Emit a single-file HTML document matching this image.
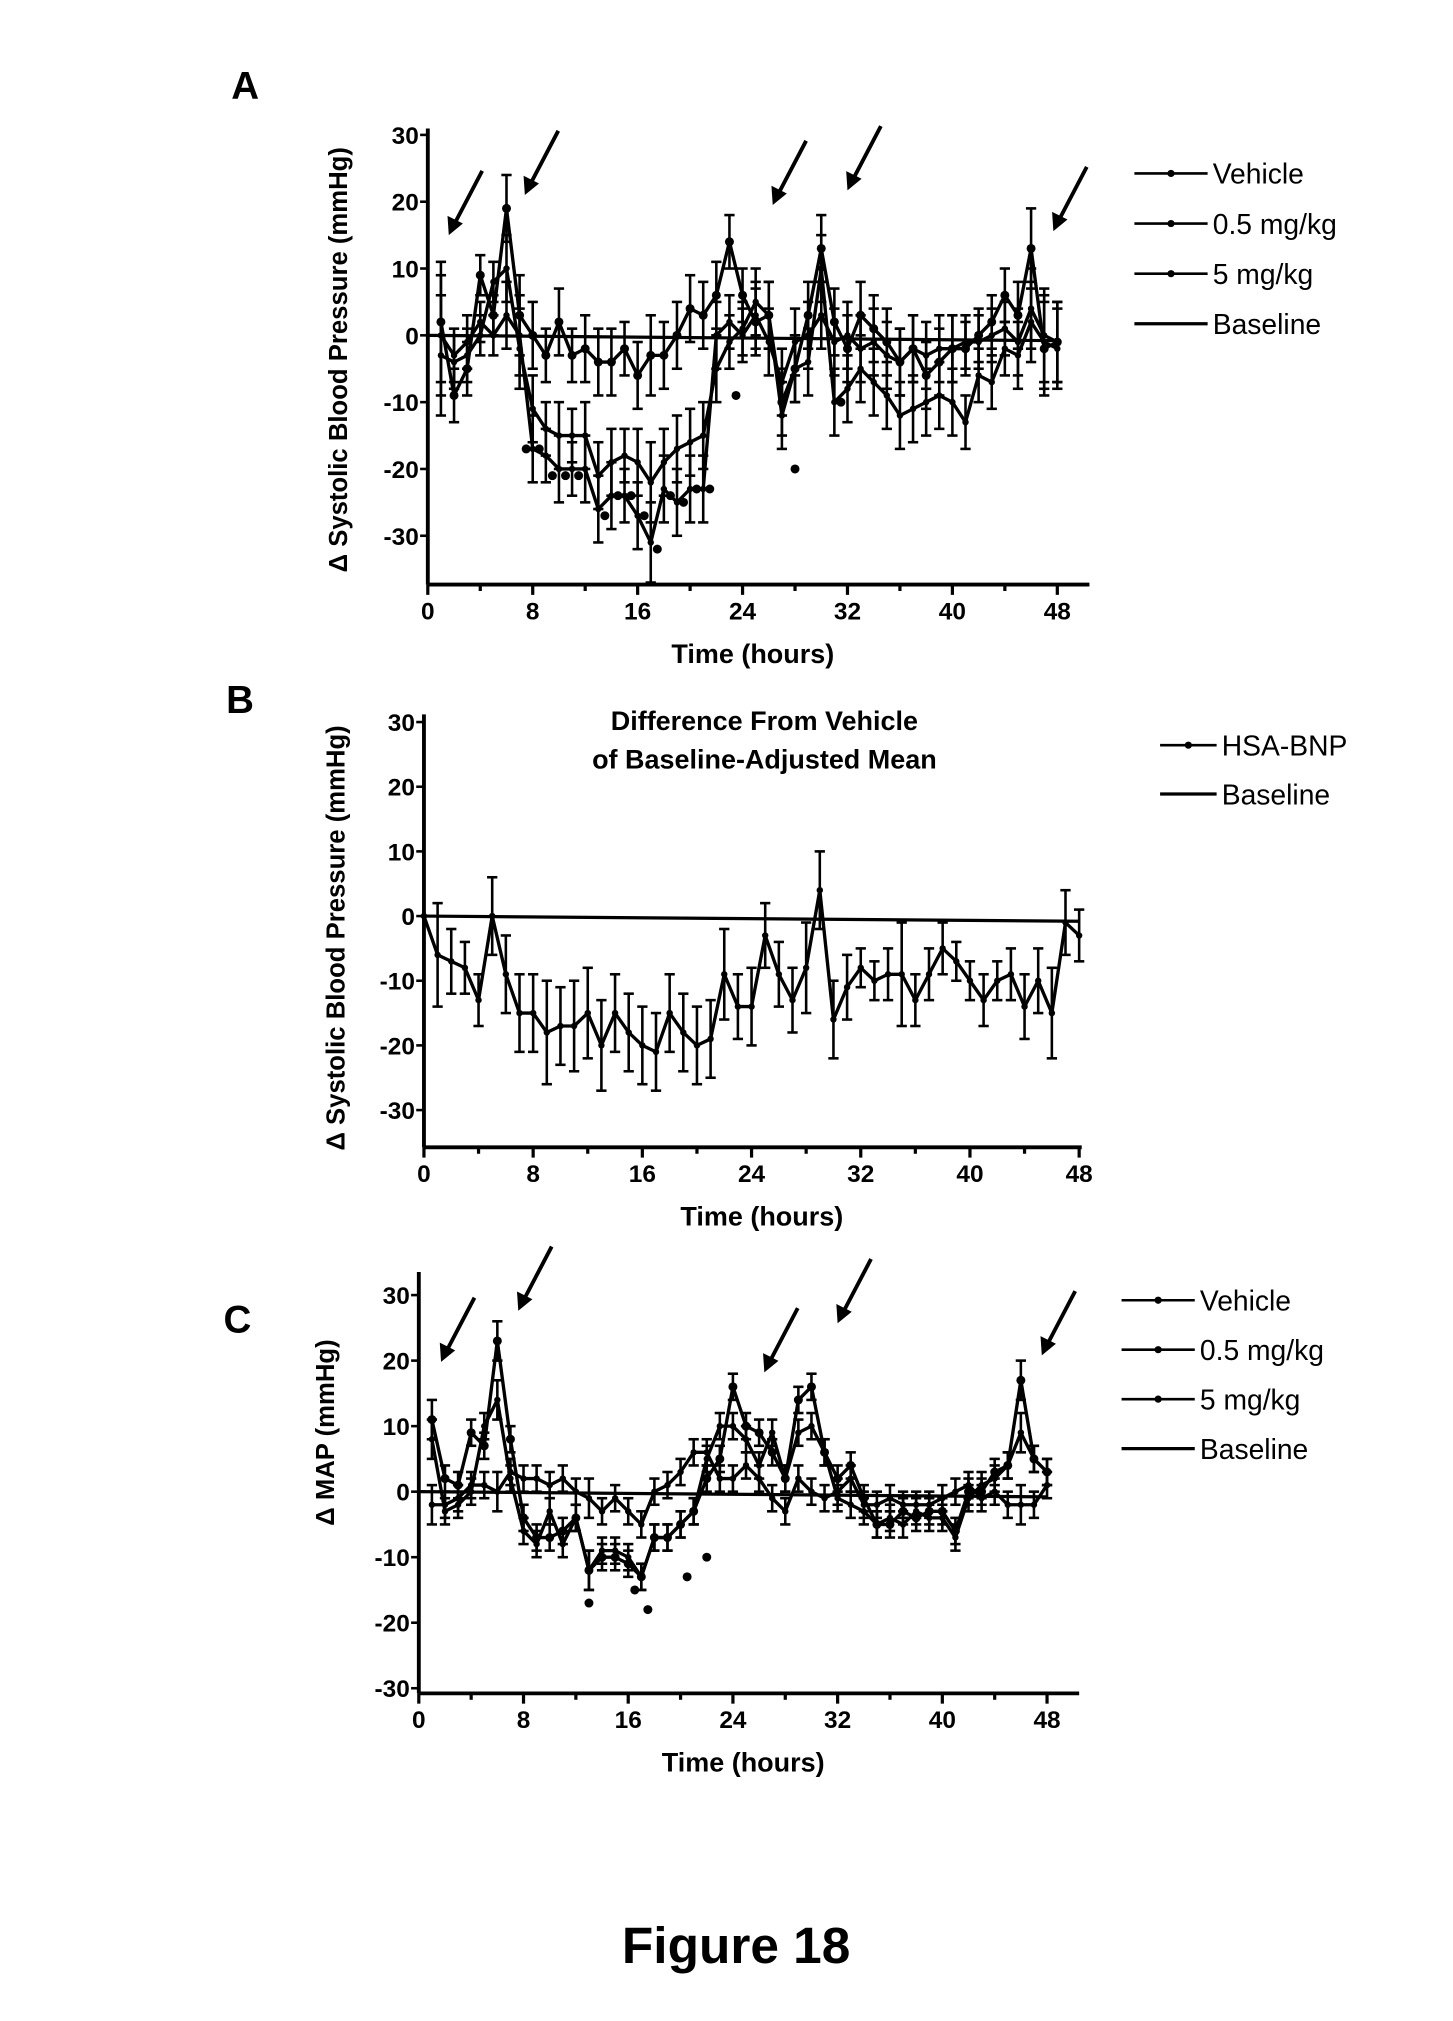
<!DOCTYPE html>
<html><head><meta charset="utf-8">
<style>
html,body{margin:0;padding:0;background:#fff;}
svg{display:block;}
text{font-family:"Liberation Sans",Arial,sans-serif;font-weight:bold;fill:#000;}
</style></head>
<body>
<svg id="fig" width="1453" height="2021" viewBox="0 0 1131 1573" preserveAspectRatio="none" xmlns="http://www.w3.org/2000/svg">
<text x="180" y="77" font-size="30">A</text>
<text x="176" y="555" font-size="30">B</text>
<text x="174" y="1037" font-size="30">C</text>
<text x="595" y="568" font-size="21" text-anchor="middle">Difference From Vehicle</text>
<text x="595" y="598" font-size="21" text-anchor="middle">of Baseline-Adjusted Mean</text>
<text x="573" y="1528" font-size="40" font-weight="bold" text-anchor="middle" style="font-weight:bold">Figure 18</text>
</svg>
<script>
// ---- Data ----
const hours = [1,2,3,4,5,6,7,8,9,10,11,12,13,14,15,16,17,18,19,20,21,22,23,24,25,26,27,28,29,30,31,32,33,34,35,36,37,38,39,40,41,42,43,44,45,46,47,48];
const hoursB = [0].concat(hours);
const xTicks = [0,8,16,24,32,40,48];
const yTicks = [30,20,10,0,-10,-20,-30];
const aVehicle = [2,-9,-5,9,3,19,3,0,-3,2,-3,-2,-4,-4,-2,-6,-3,-3,0,4,3,6,14,6,2,3,-10,-5,3,13,2,-2,3,1,-1,-4,-2,-6,-4,-2,-2,0,2,6,3,13,-2,-1];
const aLow = [-3,-4,-3,0,8,10,-2,-11,-14,-15,-15,-15,-21,-19,-18,-19,-22,-19,-17,-16,-15,-5,-1,1,5,3,-12,-5,-4,10,-10,-8,-5,-7,-9,-12,-11,-10,-9,-10,-13,-6,-7,-2,-3,2,-1,-2];
const aHigh = [0,-3,-1,2,0,3,0,-17,-18,-20,-20,-20,-26,-24,-24,-27,-31,-23,-25,-23,-23,0,2,0,3,-1,-7,-1,0,3,-1,0,-2,-1,-3,-4,-2,-3,-2,-2,-1,-1,0,1,-1,4,0,-1];
const aErr = [9,4,4,3,3,5,6,5,4,5,4,5,5,5,4,5,6,5,5,5,5,5,4,4,5,5,5,5,5,5,5,5,5,5,5,5,5,5,5,5,4,4,4,4,5,6,7,6];
const bDiff = [0,-6,-7,-8,-13,0,-9,-15,-15,-18,-17,-17,-15,-20,-15,-18,-20,-21,-15,-18,-20,-19,-9,-14,-14,-3,-9,-13,-8,4,-16,-11,-8,-10,-9,-9,-13,-9,-5,-7,-10,-13,-10,-9,-14,-10,-15,-1,-3];
const bErr = [0,8,5,4,4,6,6,6,6,8,6,7,7,7,6,6,6,6,6,6,6,6,7,5,6,5,5,5,7,6,6,5,3,3,4,8,4,4,4,3,3,4,3,4,5,5,7,5,4];
const cVehicle = [11,2,1,9,7,23,8,-4,-7,-7,-6,-4,-12,-10,-10,-11,-13,-7,-7,-5,-3,2,5,16,10,9,6,2,14,16,6,2,4,-1,-5,-5,-3,-4,-3,-3,-6,0,0,3,4,17,5,3];
const cLow = [8,-3,-2,0,10,14,2,-6,-8,-3,-8,-4,-12,-9,-9,-10,-13,-7,-7,-5,-3,5,10,10,8,4,9,2,9,10,6,-1,-2,-3,-5,-4,-5,-3,-4,-4,-7,-1,1,2,4,9,5,3];
const cHigh = [-2,-2,-1,1,1,0,3,2,2,1,2,0,-1,-3,-1,-3,-5,0,1,3,6,6,2,2,4,2,-1,-3,2,0,-1,0,2,-2,-2,-1,-2,-2,-2,-1,0,1,-1,0,-2,-2,-2,1];
const cErr = [3,2,2,2,2,3,2,2,2,2,2,2,3,2,2,2,2,2,2,2,2,2,2,2,2,2,2,2,2,2,2,2,2,2,2,2,2,2,2,2,2,2,2,2,2,3,2,2];
const starsA = [[7.5,-17],[8.5,-17],[9.5,-21],[10.5,-21],[11.5,-21],[13.5,-27],[14.5,-24],[15.5,-24],[16.5,-27],[17.5,-32],[18.5,-24],[19.5,-25],[20.5,-23],[21.5,-23],[23.5,-9],[28,-20],[31.5,-10]];
const starsC = [[13,-17],[16.5,-15],[17.5,-18],[20.5,-13],[22,-10]];
const arrowsA = [[1.6,15],[7.4,21],[26.3,19.5],[32,21.7],[47.7,15.6]];
const arrowsC = [[1.7,19.8],[7.6,27.6],[26.4,18.2],[32,25.7],[47.6,20.8]];

const NS = "http://www.w3.org/2000/svg";
const svg = document.getElementById('fig');
function mk(tag, attrs, parent){const e=document.createElementNS(NS,tag);for(const k in attrs)e.setAttribute(k,attrs[k]);(parent||svg).appendChild(e);return e;}

function panel(cfg){
  const g = mk('g',{});
  
  
  const X = h => cfg.x0 + (cfg.x48 - cfg.x0) * h / 48;
  const Y = v => cfg.y0 + (cfg.y30 - cfg.y0) * v / 30;
  const ya = mk('line',{x1:cfg.x0,y1:cfg.yTop,x2:cfg.x0,y2:cfg.yAxis,stroke:'#000','stroke-width':3},g);
  
  
  const xa = mk('line',{x1:cfg.x0,y1:cfg.yAxis,x2:cfg.xEnd,y2:cfg.yAxis,stroke:'#000','stroke-width':3},g);
  
  
  yTicks.forEach(t=>{
    mk('line',{x1:cfg.x0-6,y1:Y(t),x2:cfg.x0,y2:Y(t),stroke:'#000','stroke-width':2},g);
    const tx = mk('text',{x:cfg.x0-7,y:Y(t)+7,'font-size':19,'text-anchor':'end'},g);
    tx.textContent = t;
    
    
  });
  for(let h=0;h<=48;h+=4){ mk('line',{x1:X(h),y1:cfg.yAxis,x2:X(h),y2:cfg.yAxis+(h%8==0?8:5),stroke:'#000','stroke-width':2.5},g); }
  xTicks.forEach(t=>{
    const tx = mk('text',{x:X(t),y:cfg.yAxis+27,'font-size':19,'text-anchor':'middle'},g);
    tx.textContent = t;
    
    
  });
  const xt = mk('text',{x:(cfg.x0+cfg.x48)/2+8,y:cfg.yAxis+61,'font-size':21,'text-anchor':'middle'},g);
  xt.textContent = 'Time (hours)';
  
  
  const yt = mk('text',{x:0,y:0,'font-size':20,'text-anchor':'middle',transform:`translate(${cfg.yLabelX},${cfg.yLabelY}) rotate(-90)`},g);
  yt.textContent = cfg.yLabel;
  
  
  const bl = mk('line',{x1:X(0),y1:Y(0),x2:X(48),y2:Y(-0.8),stroke:'#000','stroke-width':2.5},g);
  
  
  cfg.series.forEach(s=>{
    const sg = mk('g',{},g);
    
    
    const pts = s.vals.map((v,i)=>X(s.xs[i])+','+Y(v)).join(' ');
    mk('polyline',{points:pts,fill:'none',stroke:'#000','stroke-width':2.6,'stroke-linejoin':'round'},sg);
    s.vals.forEach((v,i)=>{
      const x=X(s.xs[i]), e=s.err[i];
      if(e>0){
        mk('line',{x1:x,y1:Y(v+e),x2:x,y2:Y(v-e),stroke:'#000','stroke-width':2},sg);
        mk('line',{x1:x-4,y1:Y(v+e),x2:x+4,y2:Y(v+e),stroke:'#000','stroke-width':2},sg);
        mk('line',{x1:x-4,y1:Y(v-e),x2:x+4,y2:Y(v-e),stroke:'#000','stroke-width':2},sg);
      }
      const pt = mk('circle',{cx:x,cy:Y(v),r:s.r,fill:'#000'},sg);
      
      
    });
  });
  (cfg.stars||[]).forEach(st=>{
    const c = mk('circle',{cx:X(st[0]),cy:Y(st[1]),r:3.5,fill:'#000'},g);
    
    
  });
  (cfg.arrows||[]).forEach(a=>{
    const tx=X(a[0]), ty=Y(a[1]);
    const ar = mk('g',{},g);
    
    
    mk('line',{x1:tx+4,y1:ty-8,x2:tx+26,y2:ty-50,stroke:'#000','stroke-width':3},ar);
    mk('polygon',{points:`${tx},${ty} ${tx-1},${ty-15} ${tx+11},${ty-9}`,fill:'#000'},ar);
  });
  cfg.legend.forEach((l,i)=>{
    const y = cfg.legY + i*cfg.legStep;
    const lg = mk('g',{},g);
    
    
    mk('line',{x1:cfg.legX,y1:y,x2:cfg.legX+cfg.legLen,y2:y,stroke:'#000','stroke-width':l[1]?2:2.5},lg);
    if(l[1]) mk('circle',{cx:cfg.legX+cfg.legLen/2,cy:y,r:2.8,fill:'#000'},lg);
    const t = mk('text',{x:cfg.legX+cfg.legLen+4,y:y+8,'font-size':22,'font-weight':'normal',style:'font-weight:normal'},lg);
    t.textContent = l[0];
  });
}

panel({name:'panel-a-chart',x0:333,x48:823,xEnd:848,y0:261,y30:105,yTop:100,yAxis:455,
  yLabel:'Δ Systolic Blood Pressure (mmHg)',yLabelX:270,yLabelY:280,
  series:[{name:'series-vehicle',xs:hours,vals:aVehicle,err:aErr,r:3.5},{name:'series-0.5-mg-kg',xs:hours,vals:aLow,err:aErr,r:2.5},{name:'series-5-mg-kg',xs:hours,vals:aHigh,err:aErr,r:2.5}],
  stars:starsA,arrows:arrowsA,
  legend:[['Vehicle',1],['0.5 mg/kg',1],['5 mg/kg',1],['Baseline',0]],legX:883,legY:135,legStep:39,legLen:57});
panel({name:'panel-b-chart',x0:330,x48:840,xEnd:842,y0:713,y30:562,yTop:556,yAxis:893,
  yLabel:'Δ Systolic Blood Pressure (mmHg)',yLabelX:268,yLabelY:730,
  series:[{name:'series-hsa-bnp',xs:hoursB,vals:bDiff,err:bErr,r:2.5}],
  legend:[['HSA-BNP',1],['Baseline',0]],legX:903,legY:580,legStep:38,legLen:44});
panel({name:'panel-c-chart',x0:326,x48:815,xEnd:840,y0:1161,y30:1008,yTop:990,yAxis:1318,
  yLabel:'Δ MAP (mmHg)',yLabelX:260,yLabelY:1115,
  series:[{name:'series-vehicle',xs:hours,vals:cVehicle,err:cErr,r:3.5},{name:'series-0.5-mg-kg',xs:hours,vals:cLow,err:cErr,r:2.5},{name:'series-5-mg-kg',xs:hours,vals:cHigh,err:cErr,r:2.5}],
  stars:starsC,arrows:arrowsC,
  legend:[['Vehicle',1],['0.5 mg/kg',1],['5 mg/kg',1],['Baseline',0]],legX:873,legY:1012,legStep:38.5,legLen:57});
</script>
</body></html>
